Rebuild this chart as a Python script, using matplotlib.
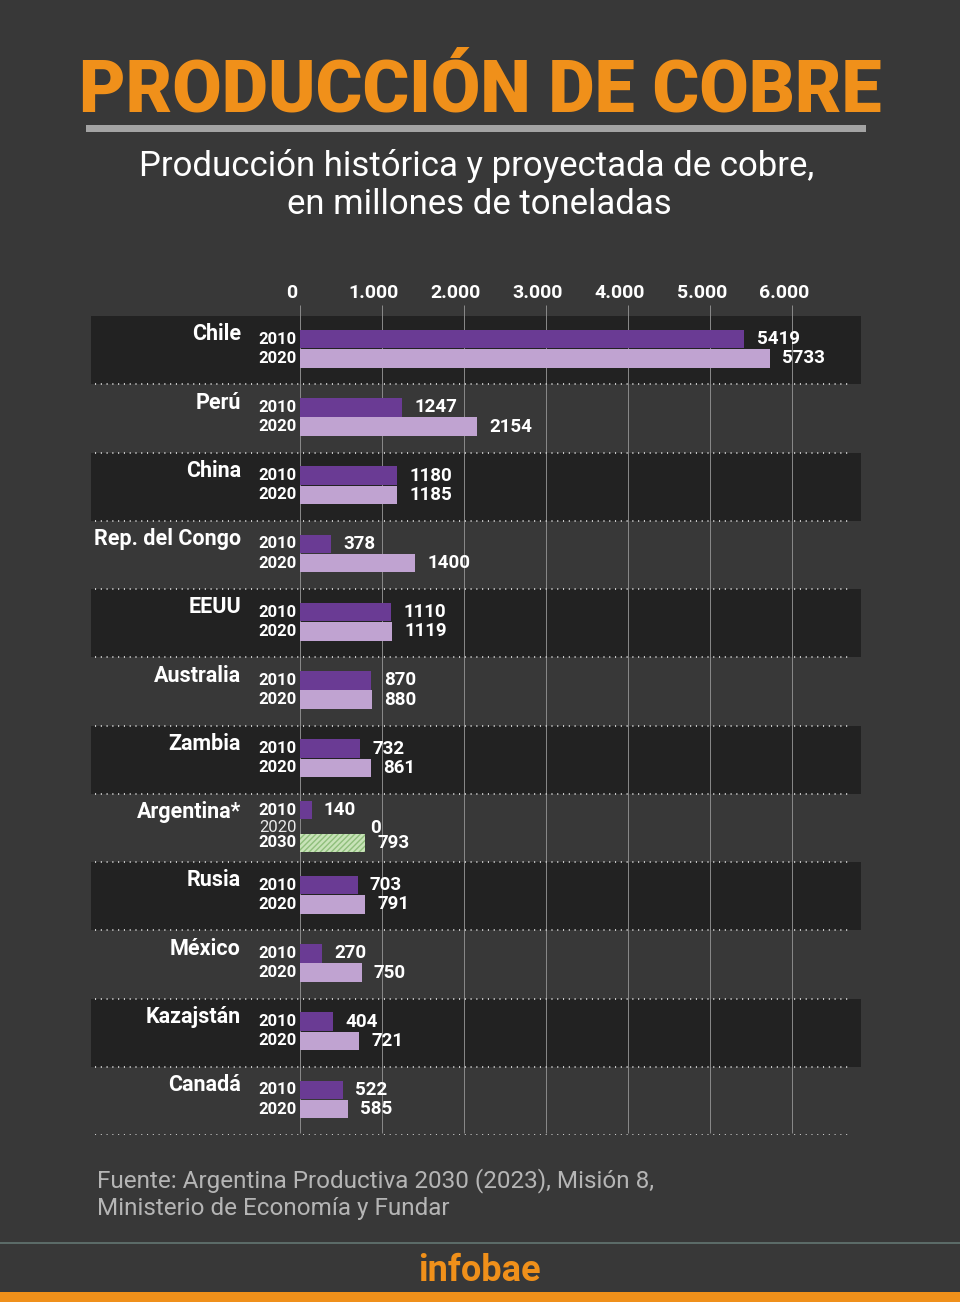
import matplotlib
matplotlib.use('Agg')
import matplotlib.pyplot as plt
from matplotlib.patches import Rectangle

# Data (thousand tonnes, as labelled in the original)
countries = ['Chile', 'Perú', 'China', 'Rep. del Congo', 'EEUU', 'Australia',
             'Zambia', 'Argentina*', 'Rusia', 'México', 'Kazajstán', 'Canadá']
prod_2010 = [5419, 1247, 1180, 378, 1110, 870, 732, 140, 703, 270, 404, 522]
prod_2020 = [5733, 2154, 1185, 1400, 1119, 880, 861, 0, 791, 750, 721, 585]
arg_2030 = 793
tick_values = [0, 1000, 2000, 3000, 4000, 5000, 6000]
tick_labels = ['0', '1.000', '2.000', '3.000', '4.000', '5.000', '6.000']

BG = '#383838'
STRIPE = '#222222'
ORANGE = '#f0901a'
C2010 = '#6a3b94'
C2020 = '#c0a3d1'
C2030 = '#c8e3b8'

plt.rcParams['font.family'] = ['Roboto', 'DejaVu Sans']

W, H = 960, 1302
fig = plt.figure(figsize=(W / 100, H / 100), dpi=100, facecolor=BG)


def fy(py):
    return 1 - py / H


# Title block
fig.text(480 / W, fy(112), 'PRODUCCIÓN DE COBRE', ha='center', va='baseline',
         fontsize=51.5, fontweight='black', color=ORANGE)
fig.add_artist(Rectangle((86 / W, fy(132)), 780 / W, 7 / H,
                         transform=fig.transFigure, color='#a3a3a3', lw=0))
fig.text(477 / W, fy(176), 'Producción histórica y proyectada de cobre,',
         ha='center', va='baseline', fontsize=25, color='white')
fig.text(479 / W, fy(214), 'en millones de toneladas',
         ha='center', va='baseline', fontsize=25, color='white')

# Chart area
ax = fig.add_axes([91 / W, fy(1135), 770 / W, 819 / H])
ax.set_facecolor(BG)
ax.set_xlim(-2549, 6841)
ax.set_ylim(12, 0)
ax.axis('off')

n = len(countries)
for i in range(0, n, 2):
    ax.axhspan(i, i + 1, color=STRIPE, lw=0, zorder=0)

ax.vlines(tick_values, -0.16, 11.97, color='#8a8a8a', lw=0.7, zorder=1, clip_on=False)
for v, lab in zip(tick_values, tick_labels):
    ax.text(v - 100, -0.33, lab, ha='center', va='center', fontsize=14,
            fontweight='bold', color='white', clip_on=False)

ax.hlines(range(1, n + 1), -2500, 6700, color='#d8d8d8', lw=1.3,
          linestyles=(0, (0.6, 2.6)), zorder=3)

bh = 0.27
off = 150
for i, name in enumerate(countries):
    ax.text(-720, i + 0.27, name, ha='right', va='center', fontsize=15.5,
            fontweight='bold', color='white')
    if name.startswith('Argentina'):
        y10, y20, y30 = i + 0.24, i + 0.50, i + 0.72
        ax.barh(y10, prod_2010[i], height=bh, color=C2010, lw=0, zorder=2)
        ax.barh(y30, arg_2030, height=bh, color=C2030, edgecolor='#8fbf7c',
                hatch='//////', lw=0, zorder=2)
        ax.text(-40, y10, '2010', ha='right', va='center', fontsize=12,
                fontweight='bold', color='white')
        ax.text(-40, y20, '2020', ha='right', va='center', fontsize=12,
                color='#e8e8e8')
        ax.text(-40, y30, '2030', ha='right', va='center', fontsize=12,
                fontweight='bold', color='white')
        ax.text(prod_2010[i] + off, y10, str(prod_2010[i]), ha='left',
                va='center', fontsize=13.5, fontweight='bold', color='white')
        ax.text(prod_2020[i] + 850, y20, str(prod_2020[i]), ha='left',
                va='center', fontsize=13.5, fontweight='bold', color='white')
        ax.text(arg_2030 + off, y30, str(arg_2030), ha='left',
                va='center', fontsize=13.5, fontweight='bold', color='white')
    else:
        y10, y20 = i + 0.34, i + 0.62
        ax.barh(y10, prod_2010[i], height=bh, color=C2010, lw=0, zorder=2)
        ax.barh(y20, prod_2020[i], height=bh, color=C2020, lw=0, zorder=2)
        ax.text(-40, y10, '2010', ha='right', va='center', fontsize=12,
                fontweight='bold', color='white')
        ax.text(-40, y20, '2020', ha='right', va='center', fontsize=12,
                fontweight='bold', color='white')
        ax.text(prod_2010[i] + off, y10, str(prod_2010[i]), ha='left',
                va='center', fontsize=13.5, fontweight='bold', color='white')
        ax.text(prod_2020[i] + off, y20, str(prod_2020[i]), ha='left',
                va='center', fontsize=13.5, fontweight='bold', color='white')

# Footer
fig.text(97 / W, fy(1187), 'Fuente: Argentina Productiva 2030 (2023), Misión 8,',
         ha='left', va='baseline', fontsize=17.5, color='#b5b5b5')
fig.text(97 / W, fy(1215), 'Ministerio de Economía y Fundar',
         ha='left', va='baseline', fontsize=17.5, color='#b5b5b5')
fig.add_artist(Rectangle((0, fy(1244)), 1, 2 / H, transform=fig.transFigure,
                         color='#5b6b68', lw=0))
fig.text(479 / W, fy(1281), 'infobae', ha='center', va='baseline',
         fontsize=26, fontweight='bold', color=ORANGE)
fig.add_artist(Rectangle((0, 0), 1, 10 / H, transform=fig.transFigure,
                         color=ORANGE, lw=0))

fig.savefig('out.png', dpi=100, facecolor=BG)
